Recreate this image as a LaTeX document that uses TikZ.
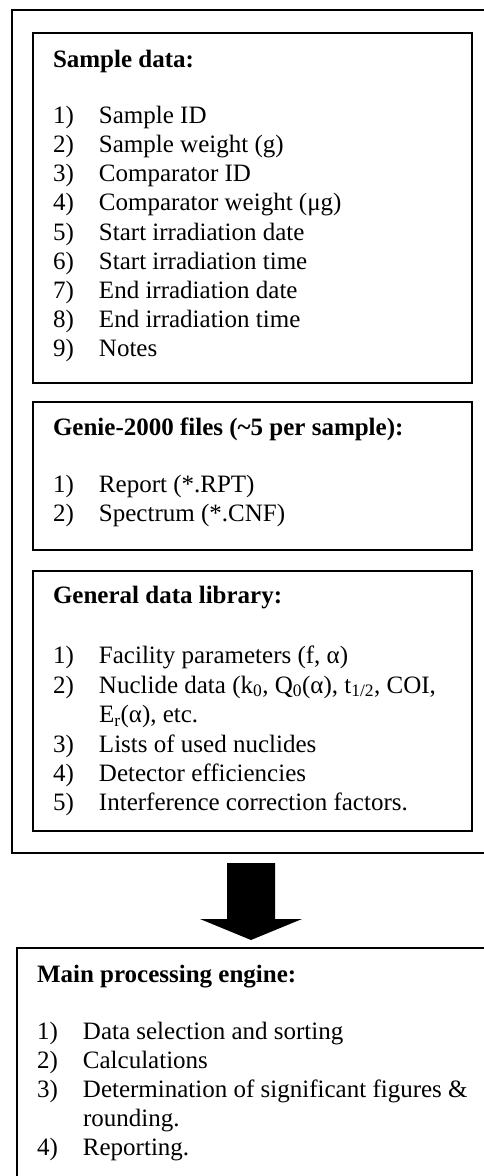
\documentclass[tikz,border=0pt]{standalone}
\usepackage{fontspec}
\setmainfont{Liberation Serif}
\tikzset{
  box/.style={draw, line width=2.4pt, inner sep=0pt, outer sep=0pt, anchor=north west},
  ln/.style={anchor=base west, inner sep=0pt, outer sep=0pt, font=\fontsize{25}{29}\selectfont},
  hd/.style={ln, font=\fontsize{25}{29}\selectfont\bfseries},
  bigarrow/.style={fill=black, draw=none},
}
\newcommand{\itm}[2]{\makebox[46pt][l]{#1}#2}
\begin{document}
\begin{tikzpicture}[x=1pt, y=-1pt]
  \clip (0,0) rectangle (484,1176);
  \fill[white] (0,0) rectangle (484,1176);
  % outer frame
  \node[box, minimum width=500pt, minimum height=843pt] (outer) at (12,10) {};
  % box 1
  \node[box, minimum width=439pt, minimum height=350pt] (b1) at (33,33) {};
  \node[hd] (b1h) at (53,67) {Sample data:};
  \node[ln] (b1l1) at (53,123.5) {\itm{1)}{Sample ID}};
  \node[ln] (b1l2) at (53,152.6) {\itm{2)}{Sample weight (g)}};
  \node[ln] (b1l3) at (53,181.8) {\itm{3)}{Comparator ID}};
  \node[ln] (b1l4) at (53,210.9) {\itm{4)}{Comparator weight (μg)}};
  \node[ln] (b1l5) at (53,240.1) {\itm{5)}{Start irradiation date}};
  \node[ln] (b1l6) at (53,269.2) {\itm{6)}{Start irradiation time}};
  \node[ln] (b1l7) at (53,298.4) {\itm{7)}{End irradiation date}};
  \node[ln] (b1l8) at (53,327.5) {\itm{8)}{End irradiation time}};
  \node[ln] (b1l9) at (53,356.7) {\itm{9)}{Notes}};
  % box 2
  \node[box, minimum width=439pt, minimum height=148pt] (b2) at (33,402) {};
  \node[hd] (b2h) at (53,435) {Genie-2000 files (\textasciitilde5 per sample):};
  \node[ln] (b2l1) at (53,492) {\itm{1)}{Report (*.RPT)}};
  \node[ln] (b2l2) at (53,521) {\itm{2)}{Spectrum (*.CNF)}};
  % box 3
  \node[box, minimum width=439pt, minimum height=260pt] (b3) at (33,571) {};
  \node[hd] (b3h) at (53,603) {General data library:};
  \node[ln] (b3l1) at (53,663) {\itm{1)}{Facility parameters (f, α)}};
  \node[ln] (b3l2) at (53,693) {\itm{2)}{Nuclide data (k\textsubscript{0}, Q\textsubscript{0}(α), t\textsubscript{1/2}, COI,}};
  \node[ln] (b3l2b) at (99,722.5) {E\textsubscript{r}(α), etc.};
  \node[ln] (b3l3) at (53,752) {\itm{3)}{Lists of used nuclides}};
  \node[ln] (b3l4) at (53,781) {\itm{4)}{Detector efficiencies}};
  \node[ln] (b3l5) at (53,810) {\itm{5)}{Interference correction factors.}};
  % main engine box
  \node[box, minimum width=500pt, minimum height=260pt] (eng) at (17,948) {};
  \node[hd] (engh) at (37,982) {Main processing engine:};
  \node[ln] (engl1) at (37,1039) {\itm{1)}{Data selection and sorting}};
  \node[ln] (engl2) at (37,1068) {\itm{2)}{Calculations}};
  \node[ln] (engl3) at (37,1097.5) {\itm{3)}{Determination of significant figures \&}};
  \node[ln] (engl3b) at (83,1126.5) {rounding.};
  \node[ln] (engl4) at (37,1155.5) {\itm{4)}{Reporting.}};
  % big arrow from outer frame to engine
  \coordinate (atop) at (251,863);
  \coordinate (atip) at (251,940);
  \fill[bigarrow] ([xshift=-24pt]atop) -- ([xshift=24pt]atop)
    -- ([xshift=24pt,yshift=-56pt]atop) -- ([xshift=51pt,yshift=-56pt]atop)
    -- (atip) -- ([xshift=-51pt,yshift=-56pt]atop)
    -- ([xshift=-24pt,yshift=-56pt]atop) -- cycle;
\end{tikzpicture}
\end{document}
